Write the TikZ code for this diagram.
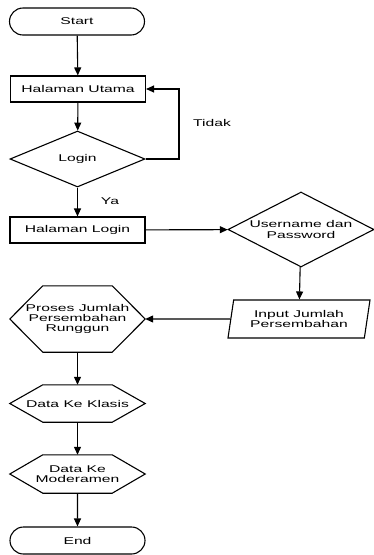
\documentclass[tikz,border=0pt]{standalone}
\usepackage{fontspec}
\setmainfont[FakeStretch=1.6]{Liberation Sans}
\usetikzlibrary{shapes.geometric,shapes.misc,arrows.meta}

\tikzset{
  box/.style={draw, line width=1.1pt, minimum width=135pt, minimum height=26pt, inner sep=0pt},
  terminal/.style={box, rounded rectangle, minimum height=27pt},
  decision/.style={draw, line width=1.1pt, diamond, inner sep=0pt, align=center},
  iobox/.style={draw, line width=1.1pt, trapezium, trapezium left angle=72, trapezium right angle=108,
    trapezium stretches body, minimum width=142pt, minimum height=38pt, inner sep=0pt, align=center},
  hexa/.style={minimum width=135pt, inner sep=0pt, align=center},
  flow/.style={line width=1.1pt, -{Triangle[length=8pt,width=7pt]}},
  lbl/.style={inner sep=0pt}
}
% hexagon round a named node
\newcommand{\drawhex}[1]{%
  \draw[line width=1.1pt] (#1.west) -- ([xshift=33pt]#1.north west) -- ([xshift=-33pt]#1.north east)
    -- (#1.east) -- ([xshift=-33pt]#1.south east) -- ([xshift=33pt]#1.south west) -- cycle;}

\begin{document}
\begin{tikzpicture}[x=1pt, y=-1pt, font=\fontsize{9.8}{10.2}\selectfont]
			\useasboundingbox (0,0) rectangle (374,555);
			% NODES
			\node[terminal] (start) at (77, 21.5) {Start};
			\node[box] (utama) at (78, 89) {Halaman Utama};
			\node[decision, minimum width=135pt, minimum height=56pt] (login) at (77.5, 159) {Login};
			\node[box] (hlogin) at (77.5, 230) {Halaman Login};
			\node[decision, shape aspect=1.95, minimum width=146pt, minimum height=75pt] (user) at (301, 229.5) {Username dan\\Password};
			\node[iobox] (input) at (299, 319) {Input Jumlah\\Persembahan};
			\node[hexa, minimum height=66pt] (proses) at (77.5, 319) {Proses Jumlah\\Persembahan\\Runggun};
			\node[hexa, minimum height=37pt] (klasis) at (77.5, 403.5) {Data Ke Klasis};
			\node[hexa, minimum height=38pt] (moder) at (77.5, 474) {Data Ke\\Moderamen};
			\node[terminal] (end) at (77.5, 540.5) {End};
			\coordinate (back) at (179, 159);
			
			% DRAW HEXAGONS
			\drawhex{proses}
			\drawhex{klasis}
			\drawhex{moder}
			
			% LABELS
			\node[lbl] (tidak) at (212, 123) {Tidak};
			\node[lbl] (ya) at (110, 201) {Ya};
			
			% DRAW ARROWS
			\path[draw, flow] (start)--(utama);
			\path[draw, flow] (utama)--(login);
			\path[draw, flow] (login.east)--(back) |- (utama.east);
			\path[draw, flow] (login)--(hlogin);
			\path[draw, flow] (hlogin)--(user);
			\path[draw, flow] (user)--(input);
			\path[draw, flow] (input)--(proses);
			\path[draw, flow] (proses)--(klasis);
			\path[draw, flow] (klasis)--(moder);
			\path[draw, flow] (moder)--(end);
		\end{tikzpicture}
\end{document}
